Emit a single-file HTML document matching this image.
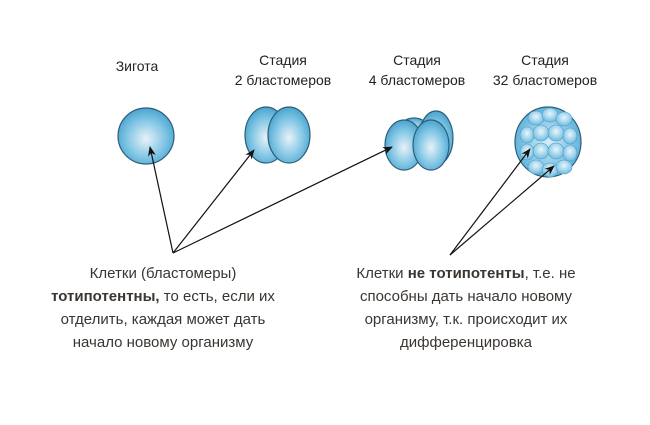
<!DOCTYPE html>
<html><head><meta charset="utf-8"><style>
body{margin:0;width:650px;height:425px;background:#fff;position:relative;overflow:hidden;font-family:"Liberation Sans",sans-serif}
.t{position:absolute;text-align:center;font-size:14px;color:#222;line-height:20px;width:140px}
.b{position:absolute;text-align:center;font-size:15px;color:#3a3530;line-height:23px;width:300px}
</style></head><body>
<svg width="650" height="425" style="position:absolute;left:0;top:0">
<defs>
<radialGradient id="g" cx="0.5" cy="0.55" r="0.6"><stop offset="0" stop-color="#e8f2f8"/><stop offset="0.6" stop-color="#7cc3e3"/><stop offset="1" stop-color="#3d9cc8"/></radialGradient>
<radialGradient id="s" cx="0.5" cy="0.5" r="0.6"><stop offset="0" stop-color="#d8eef8"/><stop offset="1" stop-color="#4aa8d4"/></radialGradient>
<radialGradient id="c" cx="0.5" cy="0.4" r="0.6"><stop offset="0" stop-color="#eaf5fb"/><stop offset="1" stop-color="#6fbde2"/></radialGradient>
<marker id="a" markerWidth="10" markerHeight="8" refX="9" refY="4" orient="auto" markerUnits="userSpaceOnUse"><path d="M0,0 L10,4 L0,8 L3,4z" fill="#111"/></marker>
</defs>
<g stroke="#2d5f7a" stroke-width="1.2">
<circle cx="146" cy="136" r="28" fill="url(#g)"/>
<ellipse cx="266" cy="135" rx="21" ry="28" fill="url(#g)"/>
<ellipse cx="289" cy="135" rx="21" ry="28" fill="url(#g)"/>
<ellipse cx="414" cy="128" rx="14" ry="10" fill="url(#g)"/>
<ellipse cx="436" cy="138" rx="17" ry="27" fill="url(#g)"/>
<ellipse cx="404" cy="145" rx="19" ry="25" fill="url(#g)"/>
<ellipse cx="431" cy="145" rx="18" ry="25" fill="url(#g)"/>
<ellipse cx="548" cy="142" rx="33" ry="35" fill="url(#s)"/>
</g>
<g fill="url(#c)" stroke="#4a9cc6" stroke-width="0.6">
<ellipse cx="536" cy="118" rx="8" ry="7"/><ellipse cx="550" cy="115" rx="8" ry="7"/><ellipse cx="564" cy="119" rx="8" ry="7"/>
<ellipse cx="527" cy="135" rx="7" ry="8"/><ellipse cx="541" cy="133" rx="8" ry="8"/><ellipse cx="556" cy="133" rx="8" ry="8"/><ellipse cx="570" cy="136" rx="7" ry="8"/>
<ellipse cx="527" cy="152" rx="7" ry="8"/><ellipse cx="541" cy="151" rx="8" ry="8"/><ellipse cx="556" cy="151" rx="8" ry="8"/><ellipse cx="570" cy="153" rx="7" ry="8"/>
<ellipse cx="536" cy="167" rx="8" ry="7"/><ellipse cx="550" cy="170" rx="8" ry="7"/><ellipse cx="564" cy="167" rx="8" ry="7"/>
</g>
<g stroke="#111" stroke-width="1.2" marker-end="url(#a)">
<line x1="173" y1="253" x2="150" y2="147"/>
<line x1="173" y1="253" x2="254" y2="150"/>
<line x1="173" y1="253" x2="392" y2="147"/>
<line x1="450" y1="255" x2="530" y2="149"/>
<line x1="450" y1="255" x2="554" y2="166"/>
</g>
</svg>
<div class="t" style="left:67px;top:56px">Зигота</div>
<div class="t" style="left:213px;top:50px">Стадия<br>2 бластомеров</div>
<div class="t" style="left:347px;top:50px">Стадия<br>4 бластомеров</div>
<div class="t" style="left:475px;top:50px">Стадия<br>32 бластомеров</div>
<div class="b" style="left:13px;top:262px">Клетки (бластомеры)<br><b>тотипотентны,</b> то есть, если их<br>отделить, каждая может дать<br>начало новому организму</div>
<div class="b" style="left:316px;top:262px">Клетки <b>не тотипотенты</b>, т.е. не<br>способны дать начало новому<br>организму, т.к. происходит их<br>дифференцировка</div>
</body></html>
